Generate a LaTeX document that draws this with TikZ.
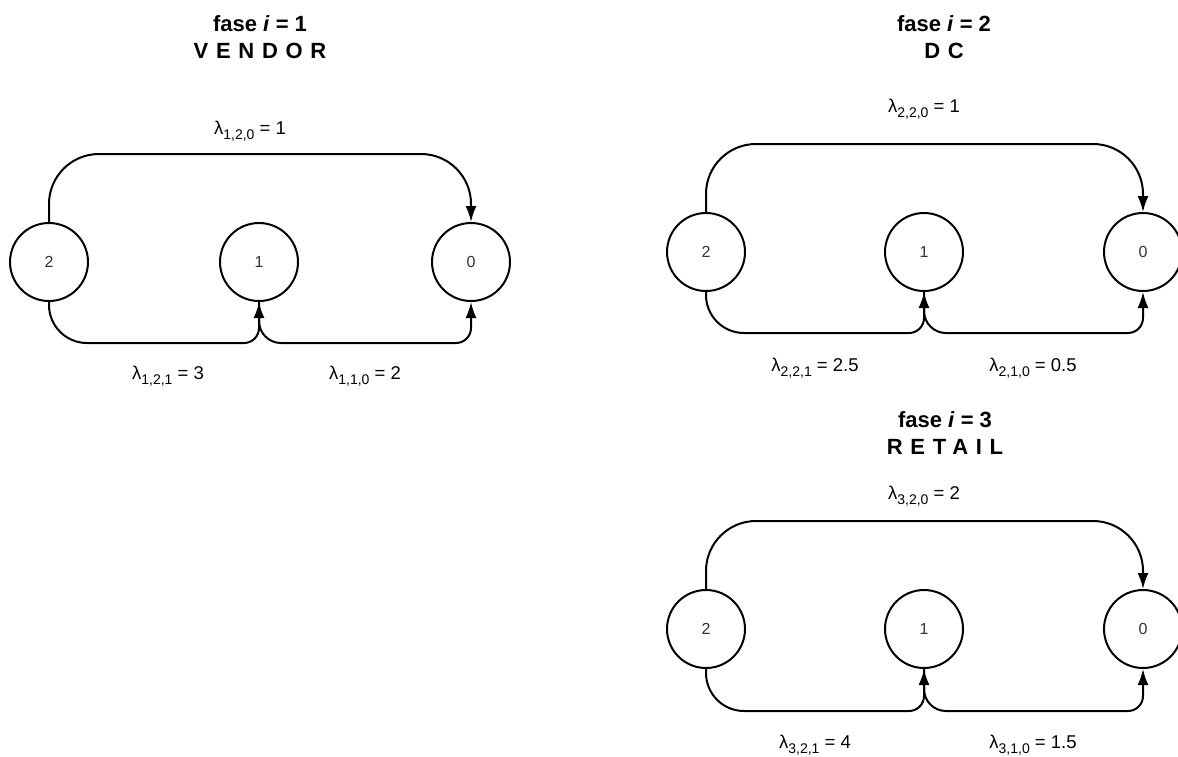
\documentclass[tikz,border=0pt]{standalone}
\usepackage{fontspec}
\setmainfont{Liberation Sans}
\usepackage{tikz}
\usetikzlibrary{arrows.meta}
\usetikzlibrary{positioning}
\tikzset{>={Latex[length=16pt,width=11pt]}}

\tikzset{
    state/.style={
        draw, circle, line width=2pt, minimum size=78pt, inner sep=0pt,
        text=black!80, font=\fontsize{16}{18}\selectfont,
    },
    trans/.style={->, line width=2pt},
    rate/.style={font=\fontsize{18.5}{21}\selectfont},
    phase/.style={align=center, font=\fontsize{22}{27}\selectfont\bfseries},
}

\newcommand{\spaced}[1]{{\addfontfeatures{LetterSpace=35}#1}}
\newcommand{\lsub}[1]{\raisebox{-0.25em}{\fontsize{14}{15}\selectfont #1}}

\begin{document}
\begin{tikzpicture}[x=1pt, y=-1pt]
        \useasboundingbox (0,0) rectangle (1178,756);

        % fase 1 - vendor
        \node[phase] (t1) at (260,37) {fase \textit{i} = 1\\ \spaced{VENDOR}};
        \node[state] (v2) at (49,262) {2};
        \node[state] (v1) at (259,262) {1};
        \node[state] (v0) at (471,262) {0};

        \draw[trans, rounded corners=50pt] (v2.north) |- (260,154) -| (v0.north);
        \draw[trans] (v2.south) [rounded corners=38pt] |- (150,343) [rounded corners=15pt] -| (v1.south);
        \draw[trans] (v1.south) [rounded corners=22pt] |- (360,343) [rounded corners=15pt] -| (v0.south);

        \node[rate] (v20) at (250,131) {λ\lsub{1,2,0} = 1};
        \node[rate] (v21) at (168,376) {λ\lsub{1,2,1} = 3};
        \node[rate] (v10) at (365,376) {λ\lsub{1,1,0} = 2};

        % fase 2 - DC
        \node[phase] (t2) at (944,37) {fase \textit{i} = 2\\ \spaced{DC}};
        \node[state] (c2) at (706,252) {2};
        \node[state] (c1) at (924,252) {1};
        \node[state] (c0) at (1143,252) {0};

        \draw[trans, rounded corners=50pt] (c2.north) |- (924,144) -| (c0.north);
        \draw[trans] (c2.south) [rounded corners=38pt] |- (810,333) [rounded corners=15pt] -| (c1.south);
        \draw[trans] (c1.south) [rounded corners=22pt] |- (1030,333) [rounded corners=15pt] -| (c0.south);

        \node[rate] (c20) at (924,109) {λ\lsub{2,2,0} = 1};
        \node[rate] (c21) at (815,368) {λ\lsub{2,2,1} = 2.5};
        \node[rate] (c10) at (1033,368) {λ\lsub{2,1,0} = 0.5};

        % fase 3 - retail
        \node[phase] (t3) at (945,433) {fase \textit{i} = 3\\ \spaced{RETAIL}};
        \node[state] (r2) at (706,629) {2};
        \node[state] (r1) at (924,629) {1};
        \node[state] (r0) at (1143,629) {0};

        \draw[trans, rounded corners=50pt] (r2.north) |- (924,521) -| (r0.north);
        \draw[trans] (r2.south) [rounded corners=38pt] |- (810,711) [rounded corners=15pt] -| (r1.south);
        \draw[trans] (r1.south) [rounded corners=22pt] |- (1030,711) [rounded corners=15pt] -| (r0.south);

        \node[rate] (r20) at (924,496) {λ\lsub{3,2,0} = 2};
        \node[rate] (r21) at (815,745) {λ\lsub{3,2,1} = 4};
        \node[rate] (r10) at (1033,745) {λ\lsub{3,1,0} = 1.5};
\end{tikzpicture}
\end{document}
